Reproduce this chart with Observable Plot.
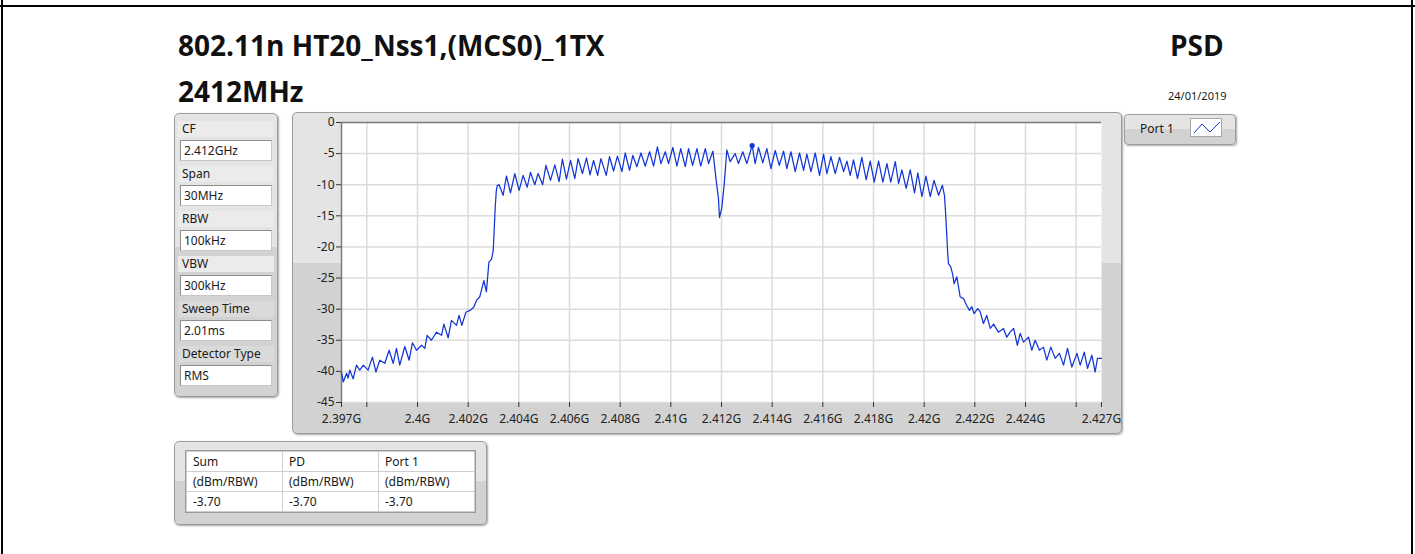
<!DOCTYPE html>
<html>
<head>
<meta charset="utf-8">
<script src="https://cdn.jsdelivr.net/npm/d3@7"></script>
<script src="https://cdn.jsdelivr.net/npm/@observablehq/plot@0.6"></script>
<style>
  html, body { margin: 0; padding: 0; background: #fff; }
  #page { position: relative; width: 1415px; height: 554px; overflow: hidden; font-family: "Noto Sans", "Open Sans", sans-serif; color: #1a1a1a; }
  .abs { position: absolute; }
  .bold { font-family: "Open Sans", "Noto Sans", sans-serif; font-weight: 700; color: #111; white-space: nowrap; line-height: 1; }
  .panel { position: absolute; box-sizing: border-box; border: 1px solid #9c9c9c; border-radius: 5px;
           background: linear-gradient(#e4e4e4 0%, #e4e4e4 47%, #d2d2d2 47%, #d2d2d2 100%);
           box-shadow: 1px 1px 2px rgba(0,0,0,0.35); }
  .lbl { position: absolute; font-size: 12px; line-height: 14px; white-space: nowrap; color: #1a1a1a; }
  .box { position: absolute; box-sizing: border-box; width: 92px; height: 21px; background: #fff;
         border: 1px solid #8e8e8e; border-right-color: #c8c8c8; border-bottom-color: #c8c8c8;
         font-size: 12px; line-height: 19px; padding-left: 3px; white-space: nowrap; }
  table.res { position: absolute; border-collapse: collapse; background: #fff; font-size: 12px; }
  table.res td { border: 1px solid #cfcfcf; width: 96px; height: 20px; padding: 0 0 0 6px; box-sizing: border-box; white-space: nowrap; line-height: 14px; }
  table.res { outline: 1px solid #9a9a9a; }
</style>
</head>
<body>
<div id="page">
  <!-- frame lines of the enclosing cell -->
  <div class="abs" style="left:0;top:5px;width:1415px;height:2px;background:#000"></div>
  <div class="abs" style="left:1px;top:0;width:2px;height:554px;background:#000"></div>
  <div class="abs" style="left:1411px;top:0;width:2px;height:554px;background:#000"></div>

  <div class="abs bold" id="title" style="left:178px;top:31px;font-size:28px">802.11n HT20_Nss1,(MCS0)_1TX</div>
  <div class="abs bold" id="subtitle" style="left:178px;top:77px;font-size:28px">2412MHz</div>
  <div class="abs bold" id="psd" style="left:1170px;top:31px;font-size:28px">PSD</div>
  <div class="abs" id="date" style="left:1168px;top:89px;font-size:11px;line-height:13px">24/01/2019</div>

  <!-- measurement settings -->
  <div class="panel" id="settings" style="left:174px;top:113px;width:104px;height:284px"></div>

  <!-- graph -->
  <div class="panel" id="graphPanel" style="left:292px;top:112px;width:830px;height:322px"></div>
  <div class="abs" id="chart" style="left:292px;top:112px"></div>

  <!-- legend -->
  <div class="panel" id="legend" style="left:1124px;top:114px;width:112px;height:31px;border-radius:4px"></div>

  <!-- result table -->
  <div class="panel" id="results" style="left:174px;top:441px;width:313px;height:84px"></div>
</div>

<script>
// Instrument settings shown beside the trace
const settingNames  = ["CF", "Span", "RBW", "VBW", "Sweep Time", "Detector Type"];
const settingValues = ["2.412GHz", "30MHz", "100kHz", "300kHz", "2.01ms", "RMS"];

// Result table
const resultHeaders = ["Sum", "PD", "Port 1"];
const resultUnits   = ["(dBm/RBW)", "(dBm/RBW)", "(dBm/RBW)"];
const resultValues  = [-3.70, -3.70, -3.70];

// Peak marker
const markerFreqMHz = 2413.21;
const markerDbm = -3.70;

// Axis ticks
const xTicksMHz = [2397, 2398, 2400, 2402, 2404, 2406, 2408, 2410, 2412, 2414, 2416, 2418, 2420, 2422, 2424, 2426, 2427];
const xGridMHz  = [2398, 2400, 2402, 2404, 2406, 2408, 2410, 2412, 2414, 2416, 2418, 2420, 2422, 2424, 2426];
const xTickLabels = ["2.397G", "", "2.4G", "2.402G", "2.404G", "2.406G", "2.408G", "2.41G", "2.412G", "2.414G",
                     "2.416G", "2.418G", "2.42G", "2.422G", "2.424G", "", "2.427G"];
const yTicks = [0, -5, -10, -15, -20, -25, -30, -35, -40, -45];

// Port 1 PSD trace: frequency (MHz) and level (dBm/RBW)
const freqMHz = [
  2397.00, 2397.07, 2397.20, 2397.26, 2397.33, 2397.46, 2397.59, 2397.72, 2397.86, 2398.05,
  2398.22, 2398.36, 2398.51, 2398.71, 2398.88, 2399.04, 2399.17, 2399.30, 2399.50, 2399.67,
  2399.80, 2399.96, 2400.16, 2400.29, 2400.38, 2400.55, 2400.75, 2400.95, 2401.04, 2401.21,
  2401.34, 2401.54, 2401.64, 2401.75, 2401.91, 2402.07, 2402.22, 2402.33, 2402.46, 2402.62,
  2402.72, 2402.82, 2402.92, 2402.99, 2403.03, 2403.07, 2403.11, 2403.15, 2403.22, 2403.38,
  2403.51, 2403.67, 2403.84, 2404.01, 2404.17, 2404.33, 2404.46, 2404.63, 2404.76, 2404.94,
  2405.07, 2405.25, 2405.42, 2405.59, 2405.72, 2405.88, 2406.04, 2406.21, 2406.34, 2406.51,
  2406.67, 2406.81, 2406.95, 2407.11, 2407.24, 2407.45, 2407.58, 2407.74, 2407.89, 2408.07,
  2408.20, 2408.37, 2408.50, 2408.66, 2408.82, 2408.99, 2409.16, 2409.32, 2409.47, 2409.61,
  2409.78, 2409.91, 2410.08, 2410.24, 2410.39, 2410.57, 2410.70, 2410.86, 2411.03, 2411.18,
  2411.36, 2411.49, 2411.66, 2411.79, 2411.88, 2411.92, 2412.01, 2412.11, 2412.21, 2412.34,
  2412.54, 2412.67, 2412.84, 2413.00, 2413.21, 2413.33, 2413.46, 2413.63, 2413.79, 2413.95,
  2414.12, 2414.28, 2414.45, 2414.58, 2414.74, 2414.91, 2415.08, 2415.24, 2415.37, 2415.53,
  2415.70, 2415.87, 2416.03, 2416.16, 2416.32, 2416.49, 2416.66, 2416.82, 2416.95, 2417.08,
  2417.21, 2417.37, 2417.54, 2417.71, 2417.87, 2418.03, 2418.20, 2418.37, 2418.53, 2418.68,
  2418.86, 2418.99, 2419.12, 2419.29, 2419.45, 2419.62, 2419.75, 2419.91, 2420.07, 2420.24,
  2420.39, 2420.57, 2420.72, 2420.80, 2420.84, 2420.89, 2420.93, 2420.96, 2421.05, 2421.13,
  2421.18, 2421.29, 2421.42, 2421.55, 2421.68, 2421.79, 2421.88, 2421.97, 2422.11, 2422.21,
  2422.34, 2422.47, 2422.61, 2422.74, 2422.93, 2423.13, 2423.26, 2423.39, 2423.53, 2423.68,
  2423.79, 2423.92, 2424.12, 2424.25, 2424.38, 2424.55, 2424.71, 2424.84, 2425.00, 2425.17,
  2425.34, 2425.50, 2425.66, 2425.83, 2426.03, 2426.16, 2426.32, 2426.45, 2426.62, 2426.75,
  2426.84, 2427.00
];
const psdDbm = [
  -40.2, -41.7, -40.3, -41.1, -39.8, -41.2, -39.0, -39.8, -39.0, -39.8,
  -37.7, -40.1, -38.2, -38.7, -36.6, -38.7, -36.3, -39.0, -36.0, -38.2,
  -35.4, -36.6, -35.8, -36.3, -34.2, -35.0, -33.7, -34.2, -32.4, -34.6,
  -31.8, -32.6, -31.0, -32.6, -30.5, -30.2, -29.7, -28.6, -28.0, -25.4,
  -27.2, -22.4, -22.0, -20.6, -17.0, -13.5, -11.0, -10.1, -10.0, -11.7,
  -8.6, -11.3, -8.2, -10.9, -8.5, -10.4, -8.0, -10.0, -8.2, -10.0,
  -6.9, -9.3, -6.8, -9.5, -5.9, -9.1, -6.1, -9.0, -5.8, -8.2,
  -5.7, -8.4, -6.1, -8.5, -5.8, -8.5, -5.5, -7.8, -5.4, -7.9,
  -4.9, -7.7, -5.3, -7.1, -4.9, -7.0, -4.7, -7.0, -3.9, -6.6,
  -4.7, -6.6, -4.0, -7.0, -4.2, -7.1, -4.2, -6.9, -4.2, -7.0,
  -4.2, -6.6, -4.6, -9.3, -12.2, -15.3, -13.8, -9.8, -4.4, -6.3,
  -5.0, -6.6, -4.7, -6.6, -3.70, -6.6, -4.0, -6.5, -4.2, -7.4,
  -4.5, -6.9, -4.6, -7.4, -4.7, -7.9, -4.9, -7.7, -5.1, -7.9,
  -4.9, -8.5, -5.1, -8.2, -5.5, -8.2, -5.6, -7.9, -6.2, -8.5,
  -6.0, -9.0, -5.6, -9.2, -6.2, -9.6, -6.2, -9.6, -6.6, -9.6,
  -6.3, -9.8, -7.6, -10.6, -7.6, -11.3, -8.1, -11.9, -8.6, -11.9,
  -9.3, -11.7, -10.1, -11.7, -14.1, -17.9, -21.1, -22.7, -23.2, -24.5,
  -25.9, -24.8, -28.0, -28.3, -29.4, -30.2, -29.6, -30.7, -29.9, -30.4,
  -32.3, -31.0, -33.1, -32.4, -33.7, -33.1, -34.5, -33.7, -33.1, -35.8,
  -33.9, -35.3, -34.5, -36.6, -35.0, -36.6, -36.1, -38.2, -36.1, -37.9,
  -37.1, -39.0, -36.3, -39.3, -37.1, -39.0, -36.9, -39.5, -37.4, -40.1,
  -37.9, -37.9
];

const trace = freqMHz.map((f, i) => ({f, p: psdDbm[i]}));
const traceColor = "#1236d6";

// ---- settings panel ----
const page = document.getElementById("page");
settingNames.forEach((name, i) => {
  const top = 121 + i * 45;
  const strip = document.createElement("div");
  strip.className = "abs";
  strip.style.cssText = `left:178px;top:${top}px;width:96px;height:16px;background:${i < 4 ? "#ebebeb" : "#dadada"};`;
  page.appendChild(strip);
  const l = document.createElement("div");
  l.className = "lbl";
  l.style.cssText = `left:182px;top:${top + 1}px;`;
  l.textContent = name;
  page.appendChild(l);
  const b = document.createElement("div");
  b.className = "box";
  b.style.cssText = `left:180px;top:${top + 19}px;`;
  b.textContent = settingValues[i];
  page.appendChild(b);
});

// ---- legend ----
const leg = document.createElement("div");
leg.className = "lbl";
leg.style.cssText = "left:1140px;top:122px;";
leg.textContent = "Port 1";
page.appendChild(leg);
const icon = document.createElementNS("http://www.w3.org/2000/svg", "svg");
icon.setAttribute("width", 32); icon.setAttribute("height", 19);
icon.style.cssText = "position:absolute;left:1190px;top:118px;background:#fff;border:1px solid #a8a8a8;box-sizing:border-box;";
icon.innerHTML = `<polyline points="3,14 11,5 19,13 29,3" fill="none" stroke="${traceColor}" stroke-width="1"/>`;
page.appendChild(icon);

// ---- result table ----
const tbl = document.createElement("table");
tbl.className = "res";
tbl.style.cssText = "left:186px;top:451px;width:289px;";
[resultHeaders, resultUnits, resultValues.map(v => v.toFixed(2))].forEach(row => {
  const tr = document.createElement("tr");
  row.forEach(c => { const td = document.createElement("td"); td.textContent = c; tr.appendChild(td); });
  tbl.appendChild(tr);
});
page.appendChild(tbl);

// ---- PSD chart ----
const chart = Plot.plot({
  width: 830,
  height: 322,
  marginLeft: 49,
  marginRight: 21,
  marginTop: 10,
  marginBottom: 32,
  style: {background: "transparent", fontFamily: "'Noto Sans', sans-serif", fontSize: "12px", color: "#222"},
  x: {domain: [2397, 2427], label: null},
  y: {domain: [-45, 0], label: null},
  marks: [
    Plot.frame({fill: "white", stroke: null}),
    Plot.gridY(yTicks, {stroke: "#dcdcdc", strokeOpacity: 1, strokeWidth: 1.5}),
    Plot.gridX(xGridMHz, {stroke: "#dcdcdc", strokeOpacity: 1, strokeWidth: 1.5}),
    Plot.ruleY([0], {stroke: "#7c7c7c", strokeWidth: 1.5}),
    Plot.ruleX([2397], {stroke: "#7c7c7c", strokeWidth: 1.5}),
    Plot.line(trace, {x: "f", y: "p", stroke: traceColor, strokeWidth: 1.25}),
    Plot.dot([{f: markerFreqMHz, p: markerDbm}], {x: "f", y: "p", r: 2.6, fill: traceColor, stroke: null}),
    Plot.axisX(xTicksMHz, {
      tickSize: 5, tickPadding: 7, label: null, stroke: "#333",
      tickFormat: d => xTickLabels[xTicksMHz.indexOf(d)]
    }),
    Plot.axisY(yTicks, {tickSize: 5, tickPadding: 2, label: null, stroke: "#333", tickFormat: d => String(d)})
  ]
});
document.getElementById("chart").appendChild(chart);
</script>
</body>
</html>
